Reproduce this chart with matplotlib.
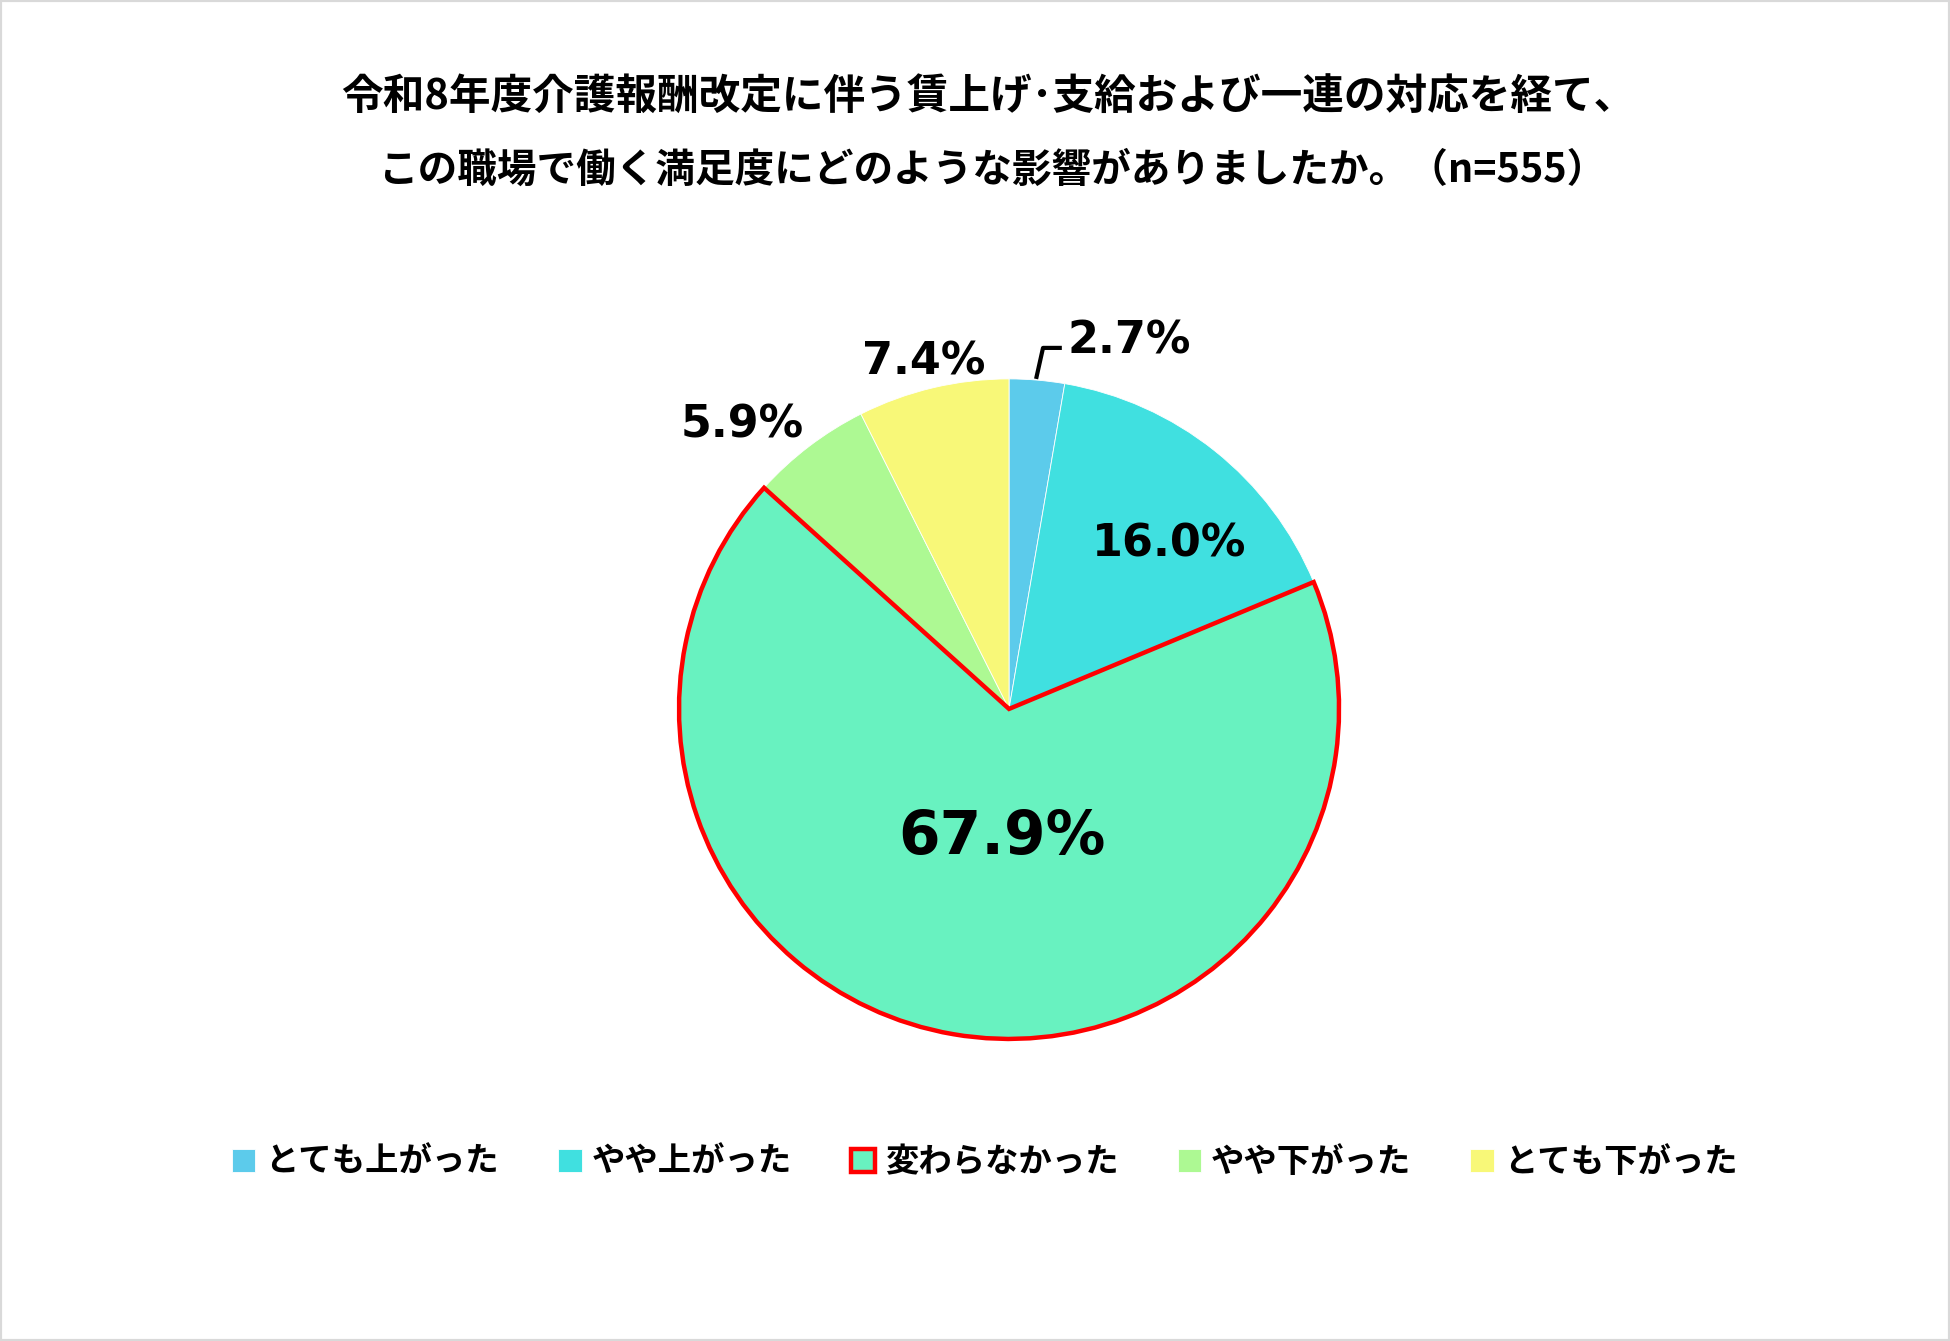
import matplotlib
matplotlib.use("Agg")
import matplotlib.pyplot as plt
from matplotlib.patches import Rectangle

plt.rcParams['font.family'] = ['Noto Sans CJK JP', 'DejaVu Sans']

title_lines = ["令和8年度介護報酬改定に伴う賃上げ･支給および一連の対応を経て、",
               "この職場で働く満足度にどのような影響がありましたか。（n=555）"]
categories = ["とても上がった", "やや上がった", "変わらなかった", "やや下がった", "とても下がった"]
values = [2.7, 16.0, 67.9, 5.9, 7.4]
labels = ["2.7%", "16.0%", "67.9%", "5.9%", "7.4%"]
colors = ["#5CCBEB", "#40E0E0", "#68F2C0", "#ADF993", "#F8F878"]

fig = plt.figure(figsize=(19.5, 13.41), dpi=100)
fig.patch.set_facecolor("white")
fig.add_artist(Rectangle((0, 0), 1, 1, transform=fig.transFigure, fill=False,
                         edgecolor="#D9D9D9", linewidth=3))

ax = fig.add_axes([0.2636, 0.1022, 0.5077, 0.7383])
wedges, _ = ax.pie(values, colors=colors, startangle=90, counterclock=False,
                   radius=1.0, wedgeprops=dict(linewidth=0.6, edgecolor="white"))
wedges[2].set_edgecolor("#FF0000")
wedges[2].set_linewidth(3.2)
wedges[2].set_zorder(5)
ax.set_xlim(-1.5, 1.5)
ax.set_ylim(-1.5, 1.5)
ax.set_aspect("equal")
ax.axis("off")

label_pos = [(0.365, 1.115), (0.485, 0.50), (-0.02, -0.39), (-0.81, 0.86), (-0.26, 1.05)]
label_size = [32, 32, 43, 32, 32]
for lab, (x, y), fs in zip(labels, label_pos, label_size):
    ax.text(x, y, lab, ha="center", va="center", fontsize=fs, fontweight="bold",
            family="DejaVu Sans", color="black", zorder=10)

# leader line for the small slice
ax.plot([0.082, 0.103, 0.16], [1.0, 1.094, 1.094], color="black", lw=3,
        solid_capstyle="butt", zorder=10)

fig.text(0.507, 0.927, title_lines[0], ha="center", va="center", fontsize=30,
         fontweight="bold")
fig.text(0.509, 0.873, title_lines[1], ha="center", va="center", fontsize=28.5,
         fontweight="bold")

leg = fig.legend(wedges, categories, loc="center", bbox_to_anchor=(0.505, 0.133),
                 ncol=5, frameon=False, fontsize=24, handlelength=0.7,
                 handleheight=0.7, handletextpad=0.3, columnspacing=1.78)
for t in leg.get_texts():
    t.set_fontweight("bold")

fig.savefig("out.png", dpi=100, facecolor="white")
